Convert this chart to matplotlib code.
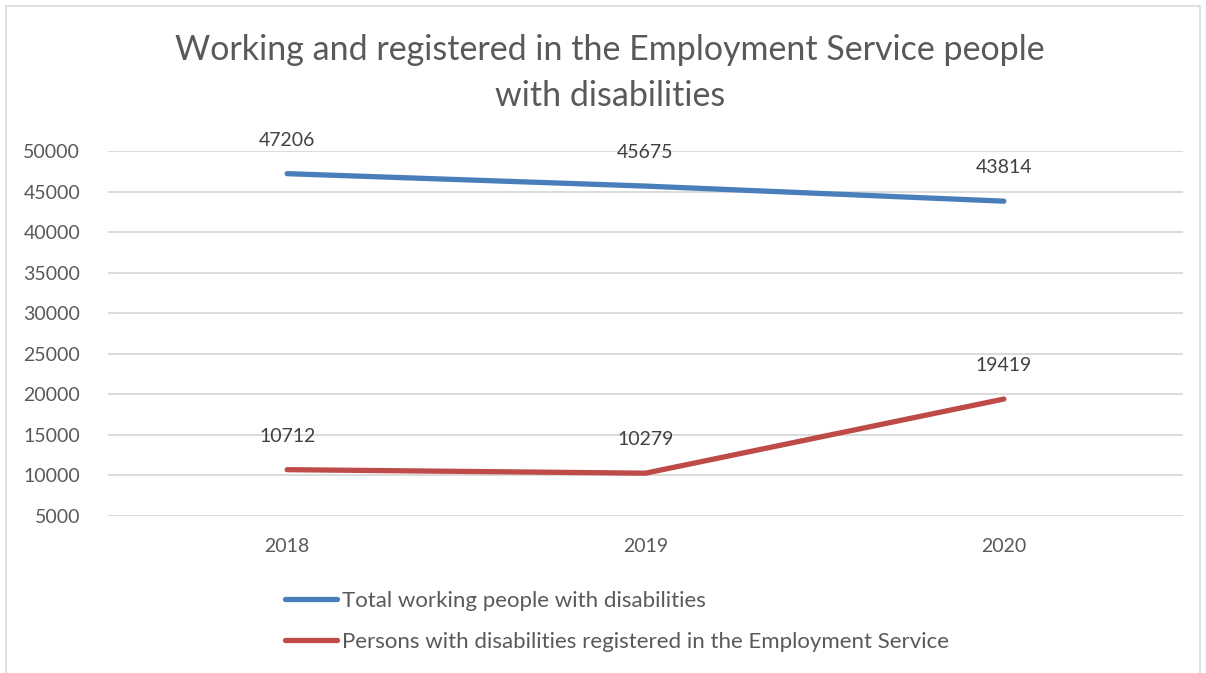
import matplotlib.pyplot as plt
from matplotlib.lines import Line2D

years = ['2018', '2019', '2020']
total_working = [47206, 45675, 43814]
registered = [10712, 10279, 19419]
series_names = ['Total working people with disabilities',
                'Persons with disabilities registered in the Employment Service']
yticks = list(range(5000, 50001, 5000))

plt.rcParams['font.family'] = ['Lato', 'DejaVu Sans']
txt = '#595959'
grid = '#D9D9D9'
blue = '#4A7EBB'
red = '#BE4B48'

fig = plt.figure(figsize=(12.06, 6.73), dpi=100)
W, H = 1206, 673
# axes in pixel coords: left 108, right 1183, top 151, bottom 516
ax = fig.add_axes([108 / W, 1 - 516 / H, (1183 - 108) / W, (516 - 151) / H])

x = list(range(len(years)))
ax.plot(x, total_working, color=blue, lw=3.8, solid_capstyle='round')
ax.plot(x, registered, color=red, lw=3.8, solid_capstyle='round')

for xi, v in zip(x, total_working):
    ax.annotate(str(v), (xi, v), xytext=(0, 24), textcoords='offset points',
                ha='center', va='center', fontsize=14, color='#404040')
for xi, v in zip(x, registered):
    ax.annotate(str(v), (xi, v), xytext=(0, 24), textcoords='offset points',
                ha='center', va='center', fontsize=14, color='#404040')

ax.set_xlim(-0.5, 2.5)
ax.set_ylim(5000, 50000)
ax.set_yticks(yticks)
ax.set_xticks(x)
ax.set_xticklabels(years)
ax.tick_params(axis='both', length=0, labelsize=14, colors=txt)
ax.tick_params(axis='y', pad=20)
ax.tick_params(axis='x', pad=16)
for s in ax.spines.values():
    s.set_visible(False)
ax.grid(axis='y', color=grid, lw=1.3)
ax.set_axisbelow(True)

fig.text(610 / W, 1 - 73 / H, 'Working and registered in the Employment Service people\nwith disabilities',
         ha='center', va='center', fontsize=24.5, color=txt, linespacing=1.55)

handles = [Line2D([], [], color=blue, lw=3.8, solid_capstyle='round'),
           Line2D([], [], color=red, lw=3.8, solid_capstyle='round')]
leg = fig.legend(handles, series_names, loc='upper left', bbox_to_anchor=(265 / W, 1 - 571 / H),
                 frameon=False, fontsize=16, handlelength=2.35, handletextpad=0.2,
                 labelspacing=0.95, labelcolor=txt)

# light chart border
fig.add_artist(plt.Rectangle((6 / W, -0.01), (1200 - 6) / W, 1 - 6 / H + 0.01,
                             transform=fig.transFigure, fill=False, ec='#D9D9D9', lw=1.2))

fig.savefig('out.png', dpi=100)
